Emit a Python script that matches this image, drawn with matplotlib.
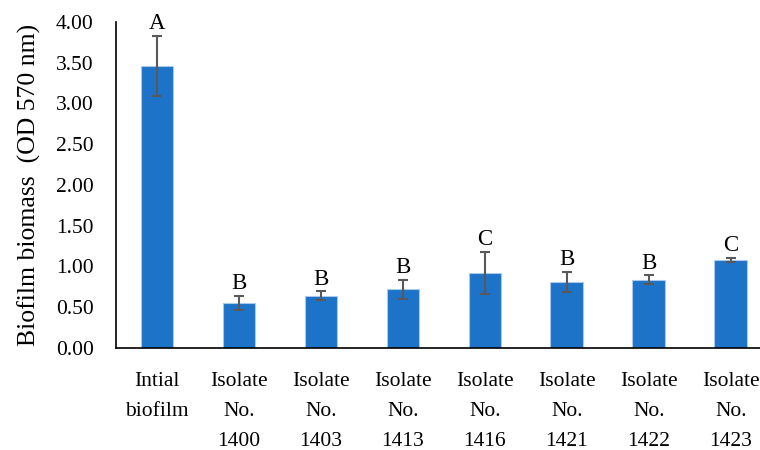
import numpy as np
import matplotlib.pyplot as plt

plt.rcParams['font.family'] = ['Liberation Serif', 'DejaVu Serif']

# biofilm biomass per sample, mean and error
labels = ['Intial\nbiofilm', 'Isolate\nNo.\n1400', 'Isolate\nNo.\n1403', 'Isolate\nNo.\n1413',
          'Isolate\nNo.\n1416', 'Isolate\nNo.\n1421', 'Isolate\nNo.\n1422', 'Isolate\nNo.\n1423']
means = [3.46, 0.55, 0.64, 0.72, 0.92, 0.81, 0.84, 1.08]
errs = [0.37, 0.09, 0.055, 0.12, 0.26, 0.125, 0.055, 0.03]
groups = ['A', 'B', 'B', 'B', 'C', 'B', 'B', 'C']

fig = plt.figure(figsize=(7.6, 4.5), dpi=100)
ax = fig.add_axes([0.1526, 0.2267, 0.863, 0.7244])

x = np.arange(len(means))
ax.bar(x, means, width=0.4, color='#1c73c8', edgecolor='#a9c9ec', linewidth=0.8,
       yerr=errs, error_kw=dict(ecolor='#595959', elinewidth=1.5, capsize=3.9, capthick=1.5))

for xi, m, e, g in zip(x, means, errs, groups):
    ax.annotate(g, (xi, m + e), xytext=(0, 1), textcoords='offset points',
                ha='center', va='bottom', fontsize=16.5)

ax.set_xlim(-0.5, 7.5)
ax.set_ylim(0, 4.0)
ax.set_yticks(np.arange(0, 4.01, 0.5))
ax.set_yticklabels(['%.2f' % v for v in np.arange(0, 4.01, 0.5)])
ax.set_xticks(x)
ax.set_xticklabels(labels, linespacing=1.8, va='top')
ax.tick_params(axis='both', length=0, labelsize=15.5)
ax.tick_params(axis='y', pad=16)
ax.tick_params(axis='x', pad=17)
ax.set_ylabel('Biofilm biomass  (OD 570 nm)', fontsize=18.5, labelpad=11)

for s in ['top', 'right']:
    ax.spines[s].set_visible(False)
ax.spines['left'].set_linewidth(1.2)
ax.spines['bottom'].set_linewidth(1.2)

fig.savefig('out.png', dpi=100)
